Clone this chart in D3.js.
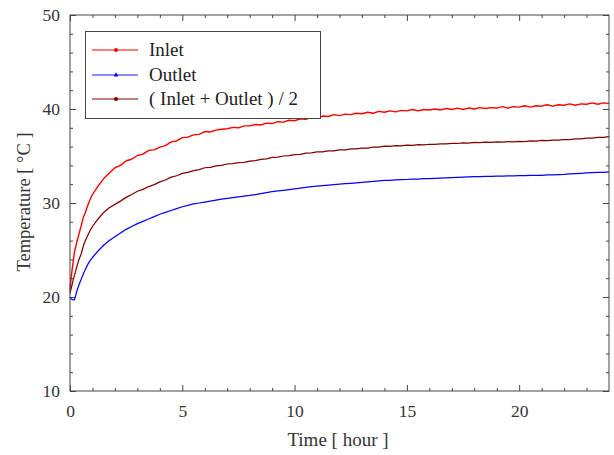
<!DOCTYPE html>
<html><head><meta charset="utf-8">
<script src="https://cdn.jsdelivr.net/npm/d3@7"></script>
<style>body{margin:0;background:#fff}svg{display:block}</style>
</head><body><svg id="c" width="614" height="455"></svg>
<script>
const times = [0,0.05,0.1,0.15,0.2,0.3,0.4,0.5,0.6,0.7,0.8,0.9,1.0,1.25,1.5,1.75,
2,2.25,2.5,2.75,3,3.25,3.5,3.75,4,4.25,4.5,4.75,5,5.25,5.5,5.75,6,6.25,6.5,6.75,7,7.25,7.5,7.75,
8,8.25,8.5,8.75,9,9.25,9.5,9.75,10,10.25,10.5,10.75,11,11.25,11.5,11.75,12,12.25,12.5,12.75,
13,13.25,13.5,13.75,14,14.25,14.5,14.75,15,15.25,15.5,15.75,16,16.25,16.5,16.75,17,17.25,17.5,17.75,
18,18.25,18.5,18.75,19,19.25,19.5,19.75,20,20.25,20.5,20.75,21,21.25,21.5,21.75,22,22.25,22.5,22.75,
23,23.25,23.5,23.75,24];
const inlet = [20.7,22.0,23.0,23.9,24.8,25.8,26.7,27.6,28.5,29.1,29.8,30.4,30.9,31.8,32.6,33.2,
33.75,34.0,34.5,34.65,35.05,35.2,35.6,35.65,35.95,36.1,36.5,36.6,36.95,37.0,37.25,37.3,37.6,37.55,37.75,37.85,37.9,38.05,38.0,38.2,
38.2,38.35,38.3,38.5,38.45,38.65,38.6,38.8,38.75,38.95,38.9,39.1,39.05,39.25,39.2,39.4,39.3,39.45,39.4,39.55,
39.5,39.65,39.55,39.75,39.65,39.8,39.7,39.85,39.8,39.95,39.8,39.95,39.9,40.0,39.9,40.05,39.95,40.1,39.95,40.1,
40.0,40.15,40.05,40.15,40.1,40.25,40.1,40.25,40.2,40.35,40.2,40.35,40.3,40.45,40.3,40.45,40.4,40.55,40.4,40.55,
40.5,40.65,40.5,40.65,40.6];
const outlet = [20.0,19.8,19.75,19.7,19.7,20.6,21.3,21.9,22.5,23.0,23.5,23.9,24.2,24.9,25.5,26.0,
26.4,26.8,27.2,27.5,27.8,28.05,28.3,28.55,28.8,29.0,29.2,29.4,29.6,29.75,29.9,30.0,30.1,30.2,30.3,30.4,30.5,30.58,30.65,30.73,
30.8,30.9,31.0,31.1,31.2,31.28,31.35,31.43,31.5,31.58,31.65,31.73,31.8,31.85,31.9,31.95,32.0,32.05,32.1,32.15,
32.2,32.25,32.3,32.35,32.4,32.42,32.45,32.48,32.5,32.53,32.55,32.58,32.6,32.62,32.65,32.68,32.7,32.72,32.75,32.78,
32.8,32.81,32.82,32.84,32.85,32.86,32.88,32.89,32.9,32.91,32.93,32.94,32.95,32.98,33.0,33.03,33.05,33.09,33.13,33.16,
33.2,33.22,33.25,33.27,33.3];
const average = [20.4,20.9,21.4,21.9,22.3,23.2,24.0,24.6,25.5,26.1,26.6,27.1,27.5,28.3,29.0,29.5,
29.85,30.2,30.6,30.9,31.25,31.45,31.75,31.95,32.25,32.45,32.75,32.9,33.15,33.25,33.45,33.55,33.75,33.8,33.95,34.0,34.15,34.18,34.3,34.33,
34.45,34.5,34.65,34.7,34.85,34.88,35.0,35.03,35.15,35.18,35.3,35.33,35.45,35.45,35.55,35.55,35.65,35.65,35.75,35.75,
35.85,35.85,35.95,35.95,36.05,36.03,36.1,36.08,36.15,36.13,36.2,36.18,36.25,36.23,36.3,36.28,36.35,36.33,36.4,36.38,
36.45,36.42,36.48,36.45,36.5,36.47,36.53,36.5,36.55,36.53,36.6,36.58,36.65,36.63,36.7,36.68,36.75,36.75,36.82,36.82,
36.9,36.9,36.97,36.97,37.05];
const seriesNames = ["Inlet","Outlet","( Inlet + Outlet ) / 2"];
const seriesColors = ["#ff0000","#0000ff","#800000"];
const xTicks = [0,5,10,15,20];
const yTicks = [10,20,30,40,50];
const xMinor = [1,2,3,4,6,7,8,9,11,12,13,14,16,17,18,19,21,22,23];
const yMinor = [12,14,16,18,22,24,26,28,32,34,36,38,42,44,46,48];

const svg = d3.select("#c");
const m = {l:70,r:609,t:15,b:391};
const x = d3.scaleLinear().domain([0,24]).range([m.l,m.r]);
const y = d3.scaleLinear().domain([10,50]).range([m.b,m.t]);
const font = "'Liberation Serif','Times New Roman',serif";
const ax = "#444";

const seriesData = [inlet,outlet,average];
const line = d3.line().defined((d,i)=>times[i]!==undefined && d!=null)
  .x((d,i)=>x(times[i])).y(d=>y(d));
[1,2,0].forEach(k=>{
  svg.append("path").attr("d",line(seriesData[k])).attr("fill","none")
    .attr("stroke",seriesColors[k]).attr("stroke-width",k===0?1.4:1.25).attr("stroke-linejoin","round");
});

function axisDraw(axisGen, tr, major){
  const a = svg.append("g").attr("transform",tr).call(axisGen);
  a.select(".domain").remove();
  a.selectAll("line").attr("stroke",ax).attr("stroke-width",1);
  if(major) a.selectAll("text").attr("font-family",font).attr("font-size",17.5).attr("fill","#333");
  else a.selectAll("text").remove();
  return a;
}
axisDraw(d3.axisBottom(x).tickValues(xTicks).tickSize(-6).tickPadding(14).tickFormat(d3.format("d")),`translate(0,${m.b})`,true);
axisDraw(d3.axisBottom(x).tickValues(xMinor).tickSize(-3).tickFormat(""),`translate(0,${m.b})`,false);
axisDraw(d3.axisTop(x).tickValues(xTicks).tickSize(-6).tickFormat(""),`translate(0,${m.t})`,false);
axisDraw(d3.axisTop(x).tickValues(xMinor).tickSize(-3).tickFormat(""),`translate(0,${m.t})`,false);
axisDraw(d3.axisLeft(y).tickValues(yTicks).tickSize(-6).tickPadding(10).tickFormat(d3.format("d")),`translate(${m.l},0)`,true);
axisDraw(d3.axisLeft(y).tickValues(yMinor).tickSize(-3).tickFormat(""),`translate(${m.l},0)`,false);
axisDraw(d3.axisRight(y).tickValues(yTicks).tickSize(-6).tickFormat(""),`translate(${m.r},0)`,false);
axisDraw(d3.axisRight(y).tickValues(yMinor).tickSize(-3).tickFormat(""),`translate(${m.r},0)`,false);

svg.append("rect").attr("x",m.l).attr("y",m.t).attr("width",m.r-m.l).attr("height",m.b-m.t)
  .attr("fill","none").attr("stroke",ax).attr("stroke-width",1);

svg.append("text").attr("x",338).attr("y",446).attr("text-anchor","middle")
  .attr("font-family",font).attr("font-size",19).attr("fill","#333").text("Time [ hour ]");
svg.append("text").attr("transform","translate(30,202) rotate(-90)").attr("text-anchor","middle")
  .attr("font-family",font).attr("font-size",18.5).attr("fill","#333").text("Temperature [ °C ]");

const lg = svg.append("g");
lg.append("rect").attr("x",85.5).attr("y",31.5).attr("width",235).attr("height",87)
  .attr("fill","#fff").attr("stroke",ax).attr("stroke-width",1);
const rowY = [50,75,99];
seriesNames.forEach((n,i)=>{
  lg.append("line").attr("x1",92).attr("x2",138).attr("y1",rowY[i]).attr("y2",rowY[i])
    .attr("stroke",seriesColors[i]).attr("stroke-width",i===1?1.5:1).attr("opacity",i===1?0.6:1);
  if(i===1){
    lg.append("path").attr("d",d3.symbol(d3.symbolTriangle,10)()).attr("transform",`translate(116,${rowY[i]})`).attr("fill",seriesColors[i]);
  } else {
    lg.append("circle").attr("cx",116).attr("cy",rowY[i]).attr("r",2).attr("fill",seriesColors[i]);
  }
  lg.append("text").attr("x",149).attr("y",rowY[i]+6).attr("font-family",font).attr("font-size",19)
    .attr("fill","#222").text(n);
});
</script></body></html>
